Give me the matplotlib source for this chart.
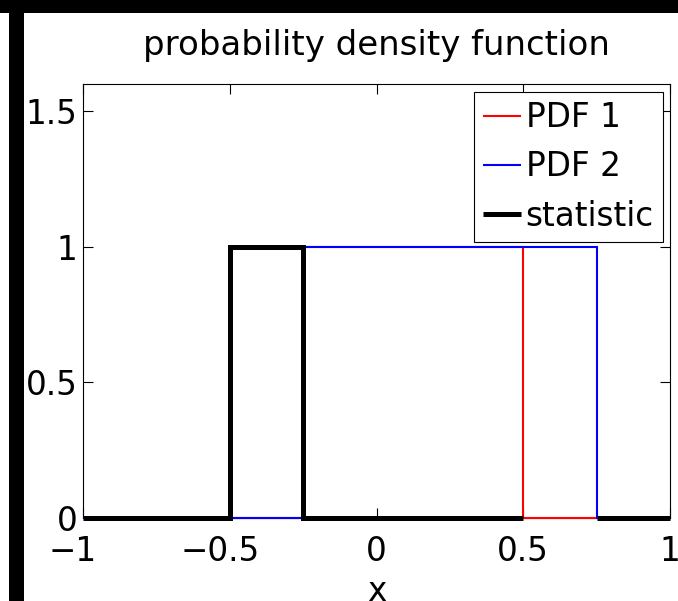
import numpy as np
import matplotlib
matplotlib.use("Agg")
import matplotlib.pyplot as plt
import matplotlib.transforms as mtransforms
from matplotlib.patches import Rectangle

# axis ticks
x_tick_values = [-1, -0.5, 0, 0.5, 1]
x_tick_labels = ["\u22121", "\u22120.5", "0", "0.5", "1"]
y_tick_values = [0, 0.5, 1, 1.5]
y_tick_labels = ["0", "0.5", "1", "1.5"]

# piecewise-constant curves: interval breakpoints and the level on each interval
pdf1_edges = [-1, -0.25, 0.5, 1]
pdf1_levels = [0, 1, 0]
pdf2_edges = [-1, -0.25, 0.75, 1]
pdf2_levels = [0, 1, 0]
stat_edges = [-1, -0.5, -0.25, 0.5, 0.75, 1]
stat_levels = [0, 1, 0, np.nan, 0]

series_names = ["PDF 1", "PDF 2", "statistic"]


def stairs_xy(edges, levels):
    xs, ys = [], []
    for i, v in enumerate(levels):
        xs += [edges[i], edges[i + 1]]
        ys += [v, v]
    return np.asarray(xs, float), np.asarray(ys, float)


plt.rcParams["font.family"] = ["DejaVu Sans"]
FS = 23.5

W, H = 678, 601
fig = plt.figure(figsize=(W / 100, H / 100), dpi=100)
fig.patch.set_facecolor("white")

# dark frame strips along the top and left edge
fig.patches.append(Rectangle((0, 1 - 12.5 / H), 1, 12.5 / H, transform=fig.transFigure,
                             facecolor="black", edgecolor="none", zorder=5))
fig.patches.append(Rectangle((8.5 / W, 0), 15.5 / W, 1, transform=fig.transFigure,
                             facecolor="black", edgecolor="none", zorder=5))

ax = fig.add_axes([83 / W, 83 / H, 587 / W, 434 / H])

for (edges, levels), color, lw, name in zip(
        [(pdf1_edges, pdf1_levels), (pdf2_edges, pdf2_levels), (stat_edges, stat_levels)],
        ["#ff0000", "#0000ff", "#000000"],
        [1.5, 1.5, 3.6],
        series_names):
    xs, ys = stairs_xy(edges, levels)
    ax.plot(xs, ys, color=color, lw=lw, label=name, clip_on=False,
            solid_joinstyle="miter", solid_capstyle="butt")

ax.set_xlim(-1, 1)
ax.set_ylim(0, 1.6)
ax.set_xticks(x_tick_values, x_tick_labels)
ax.set_yticks(y_tick_values, y_tick_labels)
ax.tick_params(direction="in", length=7, width=0.8, top=True, right=True,
               labelsize=FS, colors="black")
ax.tick_params(axis="x", pad=12)
ax.tick_params(axis="y", pad=4)
for sp in ax.spines.values():
    sp.set_linewidth(0.8)
    sp.set_zorder(1)

# numbers stay centred on the tick, the minus sign hangs to the left
shift = mtransforms.ScaledTranslation(-10 / 100, 0, fig.dpi_scale_trans)
for lbl in ax.get_xticklabels():
    if lbl.get_text().startswith("\u2212"):
        lbl.set_transform(lbl.get_transform() + shift)

ax.set_title("probability density function", fontsize=24.5, pad=21)
ax.set_xlabel("x", fontsize=FS)
ax.xaxis.set_label_coords(0.5, -0.131)

leg = ax.legend(loc="upper right", bbox_to_anchor=(0.988, 0.982), borderaxespad=0,
                fancybox=False, framealpha=1, edgecolor="black", fontsize=FS,
                handlelength=1.15, handletextpad=0.15, labelspacing=0.5,
                borderpad=0.28)
leg.get_frame().set_linewidth(0.8)

fig.savefig("out.png", dpi=100, facecolor="white")
